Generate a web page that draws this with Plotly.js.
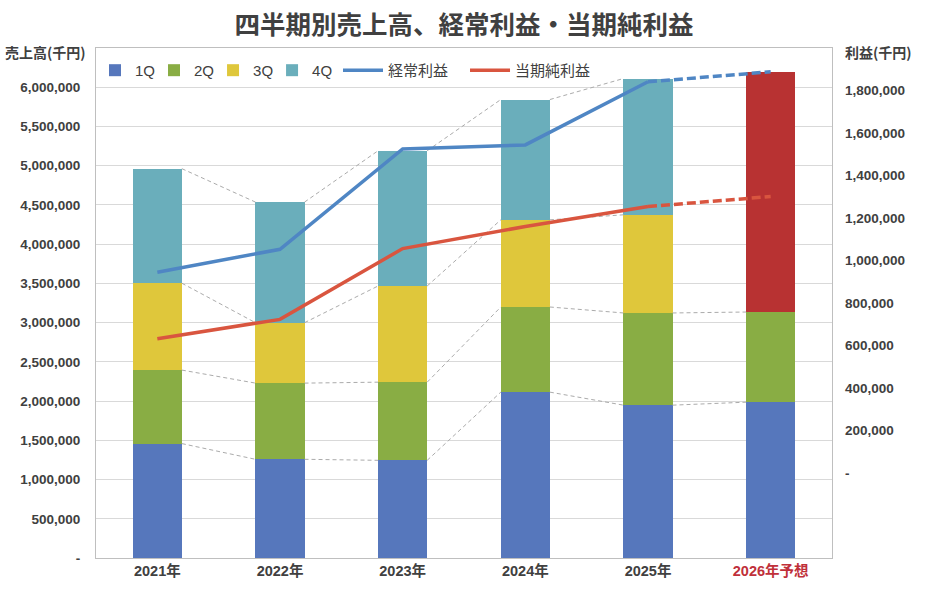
<!DOCTYPE html>
<html>
<head>
<meta charset="utf-8">
<script src="https://cdn.plot.ly/plotly-3.0.1.min.js"></script>
<style>
  html, body { margin: 0; padding: 0; background: #ffffff; }
  #chart { width: 931px; height: 595px; }
</style>
</head>
<body>
<div id="chart"></div>
<script>
// ---- data ----
const categories = ['2021年', '2022年', '2023年', '2024年', '2025年', '2026年予想'];
const q1 = [1458000, 1258000, 1245000, 2114000, 1948000, 1986000];
const q2 = [937000, 971000, 996000, 1085000, 1175000, 1149000];
const q3 = [1107000, 770000, 1226000, 1111000, 1251000, null];
const q4 = [1460000, 1537000, 1724000, 1533000, 1737000, null];
const forecastRest = [null, null, null, null, null, 3065000];   // 2026 予想 (remaining)
const ordinaryProfit = [945000, 1053000, 1525000, 1544000, 1841000, 1888000]; // 経常利益
const netProfit = [632000, 723000, 1056000, 1160000, 1254000, 1301000];        // 当期純利益
const quarterNames = ['1Q', '2Q', '3Q', '4Q'];
const leftTicks = [0, 500000, 1000000, 1500000, 2000000, 2500000, 3000000, 3500000, 4000000, 4500000, 5000000, 5500000, 6000000];
const rightTicks = [0, 200000, 400000, 600000, 800000, 1000000, 1200000, 1400000, 1600000, 1800000];
const forecastIndex = 5; // first forecast category

// ---- styles ----
const font = 'Liberation Sans, Arial, "Noto Sans CJK JP", sans-serif';
const cjk = '"Noto Sans CJK JP", sans-serif';
const textColor = '#404040';
const qColors = ['#5677BC', '#89AD44', '#DFC73B', '#6AAEBB'];
const forecastColor = '#B83232';
const ordColor = '#4F86C4';
const netColor = '#D9553F';
const barWidth = 0.4;

const xs = categories.map((c, i) => i);
const fmt = v => v === 0 ? '-' : v.toLocaleString('en-US');
const ticktext = categories.map((c, i) => i >= forecastIndex ? '<span style="color:#C0303A">' + c + '</span>' : c);

const traces = [];
const quarters = [q1, q2, q3, q4];
quarters.forEach((arr, k) => {
  traces.push({
    type: 'bar', name: quarterNames[k], x: xs, y: arr, width: barWidth,
    marker: { color: qColors[k] }, yaxis: 'y', hoverinfo: 'skip', legend: 'legend'
  });
});
traces.push({
  type: 'bar', name: '予想', x: xs, y: forecastRest, width: barWidth,
  marker: { color: forecastColor }, showlegend: false, yaxis: 'y', hoverinfo: 'skip'
});

// series connector lines between stacked segment tops
const cum = [];
let running = xs.map(() => 0);
quarters.forEach(arr => {
  running = running.map((r, i) => (arr[i] == null || r == null) ? null : r + arr[i]);
  cum.push(running.slice());
});
const cx = [], cy = [];
cum.forEach(level => {
  for (let i = 0; i < level.length - 1; i++) {
    if (level[i] != null && level[i + 1] != null) {
      cx.push(xs[i] + barWidth / 2, xs[i + 1] - barWidth / 2, null);
      cy.push(level[i], level[i + 1], null);
    }
  }
});
traces.push({
  type: 'scatter', mode: 'lines', x: cx, y: cy, showlegend: false, hoverinfo: 'skip',
  line: { color: '#ABABAB', width: 1, dash: '4px,3px' }, connectgaps: false, yaxis: 'y'
});

// profit lines: solid for actuals, dashed for forecast
function split(arr) {
  const actual = arr.map((v, i) => i < forecastIndex ? v : null);
  const fc = arr.map((v, i) => i >= forecastIndex - 1 ? v : null);
  return [actual, fc];
}
[[ordinaryProfit, '経常利益', ordColor], [netProfit, '当期純利益', netColor]].forEach(([arr, name, col]) => {
  const [a, f] = split(arr);
  traces.push({
    type: 'scatter', mode: 'lines', name: name, x: xs, y: a, yaxis: 'y2', legend: 'legend2',
    line: { color: col, width: 3.5 }, hoverinfo: 'skip'
  });
  traces.push({
    type: 'scatter', mode: 'lines', name: name, x: xs, y: f, yaxis: 'y2', showlegend: false,
    line: { color: col, width: 3.5, dash: '9px,4px' }, hoverinfo: 'skip'
  });
});

const layout = {
  width: 931, height: 595,
  margin: { l: 96, r: 99, t: 48, b: 37, pad: 0 },
  paper_bgcolor: '#ffffff', plot_bgcolor: '#ffffff',
  barmode: 'stack',
  font: { family: font, color: textColor },
  showlegend: true,
  title: {
    text: '四半期別売上高、経常利益・当期純利益',
    font: { family: cjk, size: 25.5, color: textColor, weight: 'bold' },
    x: 0.5, xanchor: 'center', xref: 'paper', y: 0.958, yref: 'container', yanchor: 'middle'
  },
  legend: {
    orientation: 'h', x: 0.0068, xanchor: 'left', y: 0.956, yanchor: 'middle',
    font: { family: font, size: 15, color: textColor },
    bgcolor: 'rgba(0,0,0,0)', indentation: -6, traceorder: 'normal'
  },
  legend2: {
    orientation: 'h', x: 0.3125, xanchor: 'left', y: 0.956, yanchor: 'middle',
    font: { family: font, size: 15, color: textColor },
    bgcolor: 'rgba(0,0,0,0)', indentation: 12, itemwidth: 40, traceorder: 'normal'
  },
  xaxis: {
    range: [-0.5, categories.length - 0.5], tickvals: xs, ticktext: ticktext,
    showgrid: false, zeroline: false, showline: true, mirror: true, linecolor: '#BFBFBF', linewidth: 1,
    ticks: '', tickfont: { family: font, size: 14.5, color: textColor, weight: 'bold' }, fixedrange: true
  },
  yaxis: {
    range: [0, 6500000], tickvals: leftTicks, ticktext: leftTicks.map(fmt),
    showgrid: true, gridcolor: '#D9D9D9', gridwidth: 1, zeroline: false,
    showline: true, mirror: true, linecolor: '#BFBFBF', linewidth: 1,
    ticks: '', ticklabelstandoff: 12,
    tickfont: { family: font, size: 13.5, color: textColor, weight: 'bold' }
  },
  yaxis2: {
    overlaying: 'y', side: 'right', range: [-400000, 2000000],
    tickvals: rightTicks, ticktext: rightTicks.map(fmt),
    showgrid: false, zeroline: false, showline: false, ticks: '', ticklabelstandoff: 12,
    tickfont: { family: font, size: 13.5, color: textColor, weight: 'bold' }
  },
  annotations: [
    { text: '売上高(千円)', xref: 'paper', yref: 'paper', x: -0.127, y: 0.993, xanchor: 'left', yanchor: 'middle',
      showarrow: false, font: { family: cjk, size: 14, color: textColor, weight: 'bold' } },
    { text: '利益(千円)', xref: 'paper', yref: 'paper', x: 1.015, y: 0.993, xanchor: 'left', yanchor: 'middle',
      showarrow: false, font: { family: cjk, size: 14, color: textColor, weight: 'bold' } }
  ]
};

Plotly.newPlot('chart', traces, layout, { staticPlot: true, displayModeBar: false });
</script>
</body>
</html>
